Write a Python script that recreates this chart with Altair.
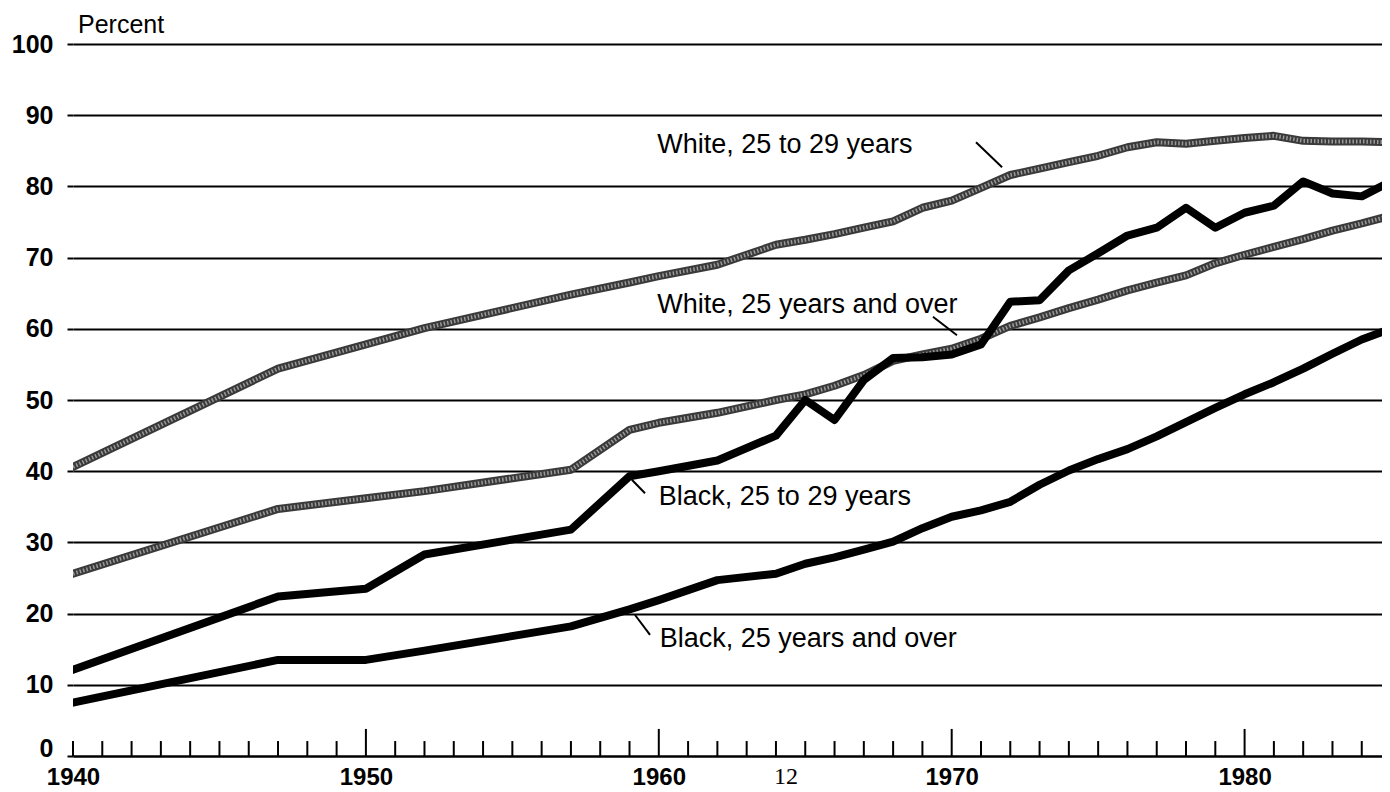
import altair as alt
import pandas as pd

# ---------------- data ----------------
years = [1940, 1947, 1950, 1952, 1957, 1959, 1960, 1962, 1964, 1965, 1966, 1967,
         1968, 1969, 1970, 1971, 1972, 1973, 1974, 1975, 1976, 1977, 1978, 1979,
         1980, 1981, 1982, 1983, 1984, 1985]

white_25_29 = [40.6, 54.4, 57.8, 60.1, 64.8, 66.5, 67.4, 69.0, 71.8, 72.5, 73.3, 74.2,
               75.1, 77.0, 78.0, 79.8, 81.6, 82.5, 83.4, 84.3, 85.5, 86.2, 86.0, 86.4,
               86.8, 87.1, 86.4, 86.3, 86.3, 86.2]
white_25_over = [25.6, 34.7, 36.2, 37.2, 40.2, 45.8, 46.8, 48.2, 50.0, 50.8, 52.0, 53.5,
                 55.5, 56.4, 57.2, 58.6, 60.4, 61.6, 62.9, 64.1, 65.4, 66.5, 67.5, 69.2,
                 70.4, 71.5, 72.6, 73.8, 74.8, 75.9]
black_25_29 = [12.1, 22.4, 23.5, 28.3, 31.8, 39.3, 40.0, 41.5, 45.0, 50.0, 47.2, 52.8,
               55.9, 56.0, 56.4, 57.8, 63.8, 64.0, 68.2, 70.6, 73.1, 74.2, 77.0, 74.2,
               76.3, 77.3, 80.7, 79.0, 78.6, 80.7]
black_25_over = [7.5, 13.5, 13.5, 14.8, 18.2, 20.6, 21.9, 24.7, 25.6, 27.0, 27.9, 29.0,
                 30.1, 32.0, 33.6, 34.5, 35.7, 38.1, 40.1, 41.7, 43.1, 44.9, 46.9, 48.9,
                 50.8, 52.5, 54.4, 56.5, 58.5, 60.0]

series_names = ["White, 25 to 29 years", "White, 25 years and over",
                "Black, 25 to 29 years", "Black, 25 years and over"]

y_ticks = [0, 10, 20, 30, 40, 50, 60, 70, 80, 90, 100]
x_labels = [1940, 1950, 1960, 1970, 1980]
tick_years = list(range(1940, 1985))

# annotation labels and their leader lines (data coordinates)
ann_x = [1959.95, 1959.95, 1960.0, 1960.03]
ann_y = [84.7, 62.2, 35.25, 15.3]
lead_x1 = [1970.83, 1969.36, 1959.08, 1959.19]
lead_x2 = [1971.72, 1970.18, 1959.53, 1959.70]
lead_y1 = [86.2, 61.7, 38.8, 19.8]
lead_y2 = [82.7, 59.1, 36.9, 17.0]

# ---------------- tables ----------------
def series_df(name, vals):
    return pd.DataFrame({"year": years, "pct": vals, "series": name})

df_white = pd.concat([series_df(series_names[0], white_25_29),
                      series_df(series_names[1], white_25_over)])
df_black = pd.concat([series_df(series_names[2], black_25_29),
                      series_df(series_names[3], black_25_over)])

ann_df = pd.DataFrame({"label": series_names, "x": ann_x, "y": ann_y})
lead_df = pd.DataFrame({"x1": lead_x1, "x2": lead_x2, "y1": lead_y1, "y2": lead_y2})
ticks_df = pd.DataFrame({"year": tick_years,
                         "major": [(t % 10 == 0 and t != 1940) for t in tick_years]})
ticks_df["zero"] = 0.0
ticks_df["top"] = ticks_df["major"].map({True: 3.8, False: 2.1})

PLOT_W, PLOT_H = 1309, 712
X0 = 1940
X1 = 1940 + PLOT_W / 29.29
xs = alt.Scale(domain=[X0, X1], nice=False, zero=False)
ys = alt.Scale(domain=[0, 100], nice=False, zero=False)

FONT = "Liberation Sans"

# axes + grid
axes = alt.Chart(pd.DataFrame({"year": [1940], "pct": [0]})).mark_point(opacity=0).encode(
    x=alt.X("year:Q", scale=xs, title=None,
            axis=alt.Axis(values=x_labels, format="d", ticks=False, tickSize=0, grid=False,
                          domain=True, domainColor="black", domainWidth=2,
                          labelFont=FONT, labelFontSize=24, labelFontWeight="bold",
                          labelColor="black", labelPadding=9, labelFlush=False,
                          labelOverlap=False, labelBound=False)),
    y=alt.Y("pct:Q", scale=ys, title=None,
            axis=alt.Axis(values=y_ticks, grid=True, gridColor="black", gridWidth=2,
                          gridOpacity=1, ticks=True, tickColor="black", tickWidth=2,
                          tickSize=6, domain=False, labelFont=FONT, labelFontSize=25,
                          labelFontWeight="bold", labelColor="black", labelPadding=14,
                          labelOffset={"condition": {"test": "datum.value === 0", "value": -8},
                                       "value": 0})),
)

xticks = alt.Chart(ticks_df).mark_rule(color="black", strokeWidth=2).encode(
    x=alt.X("year:Q", scale=xs),
    y=alt.Y("zero:Q", scale=ys),
    y2="top:Q",
)

white_base = alt.Chart(df_white).mark_line(
    color="#3a3a3a", strokeWidth=8, strokeJoin="round", strokeCap="round", clip=True
).encode(x=alt.X("year:Q", scale=xs), y=alt.Y("pct:Q", scale=ys), detail="series:N")

white_dots = alt.Chart(df_white).mark_line(
    color="#9a9a9a", strokeWidth=4, strokeDash=[1.5, 2], strokeJoin="round", clip=True
).encode(x=alt.X("year:Q", scale=xs), y=alt.Y("pct:Q", scale=ys), detail="series:N")

black_lines = alt.Chart(df_black).mark_line(
    color="black", strokeWidth=8, strokeJoin="round", strokeCap="round", clip=True
).encode(x=alt.X("year:Q", scale=xs), y=alt.Y("pct:Q", scale=ys), detail="series:N")

labels = alt.Chart(ann_df).mark_text(
    align="left", baseline="alphabetic", font=FONT, fontSize=27, color="black"
).encode(x=alt.X("x:Q", scale=xs), y=alt.Y("y:Q", scale=ys), text="label:N")

leaders = alt.Chart(lead_df).mark_rule(color="black", strokeWidth=2).encode(
    x=alt.X("x1:Q", scale=xs), x2="x2:Q",
    y=alt.Y("y1:Q", scale=ys), y2="y2:Q",
)

percent = alt.Chart(pd.DataFrame({"x": [1940.17], "y": [101.5], "t": ["Percent"]})).mark_text(
    align="left", baseline="alphabetic", font=FONT, fontSize=25, color="black"
).encode(x=alt.X("x:Q", scale=xs), y=alt.Y("y:Q", scale=ys), text="t:N")

page = alt.Chart(pd.DataFrame({"x": [1964.34], "y": [-1.3], "t": ["12"]})).mark_text(
    align="center", baseline="top", font="Liberation Serif", fontSize=24, color="black"
).encode(x=alt.X("x:Q", scale=xs), y=alt.Y("y:Q", scale=ys), text="t:N")

chart = alt.layer(
    axes, xticks, white_base, white_dots, black_lines, leaders, labels, percent, page
).properties(
    width=PLOT_W, height=PLOT_H,
    autosize=alt.AutoSizeParams(type="none"),
    padding={"left": 65, "top": 36, "right": 0, "bottom": 36},
    background="white",
).configure_view(stroke=None)

chart.save("out.html", embed_options={"renderer": "svg", "actions": False})
